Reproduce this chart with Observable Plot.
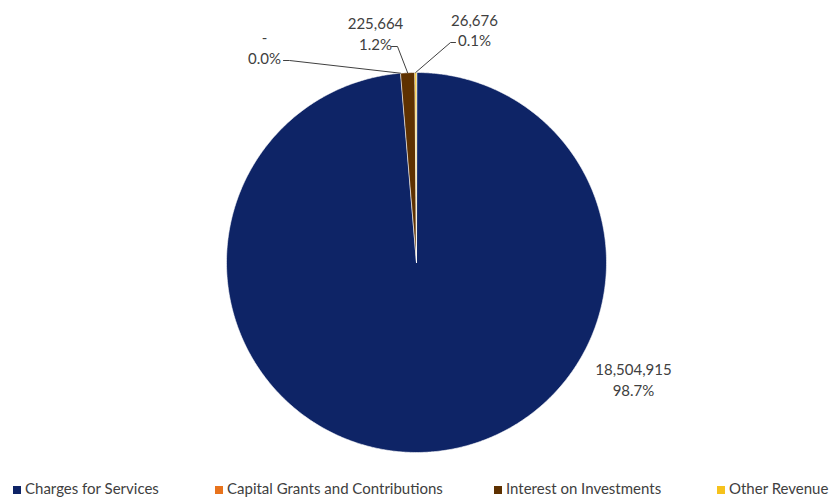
<!DOCTYPE html>
<html>
<head>
<meta charset="utf-8">
<script src="https://cdn.jsdelivr.net/npm/d3@7"></script>
<script src="https://cdn.jsdelivr.net/npm/@observablehq/plot@0.6"></script>
<style>
  html, body { margin: 0; padding: 0; background: #ffffff; }
  #chart { width: 834px; }
  #legend { position: relative; width: 834px; height: 19px; font-family: Lato, "Open Sans", sans-serif; font-size: 15px; color: #404040; }
  .item { position: absolute; top: 2px; height: 16px; line-height: 16px; white-space: nowrap; }
  .sw { display: inline-block; width: 8px; height: 8px; margin-right: 4px; vertical-align: 0px; }
</style>
</head>
<body>
<div id="chart"></div>
<div id="legend"></div>
<script>
// ---- data ----
const categories = ["Charges for Services", "Capital Grants and Contributions", "Interest on Investments", "Other Revenue"];
const values = [18504915, 0, 225664, 26676];
const valueLabels = ["18,504,915", "-", "225,664", "26,676"];
const percentLabels = ["98.7%", "0.0%", "1.2%", "0.1%"];
const colors = ["#0e2466", "#e8731c", "#5e3100", "#f6c21c"];

// ---- layout (pixels) ----
const W = 834, H = 478;
const cx = 416, cy = 262, R = 190;
// label block centers and leader start points (pixel layout)
const labelLayout = [
  {x: 633, y: 378.5, leader: null},
  {x: 264, y: 46.5, leader: [[283, 60], [289, 60]]},
  {x: 375, y: 32.5, leader: [[391, 46], [397, 46]]},
  {x: 474, y: 29, leader: [[455, 42], [450, 42]]}
];
const legendX = [13, 215, 494, 717];

const toUnit = ([px, py]) => [(px - cx) / R, (py - cy) / R];

// ---- pie geometry ----
const arcs = d3.pie().sort(null).value(d => d)(values);
const pt = a => [Math.sin(a), -Math.cos(a)];

const slices = arcs.map((a, i) => {
  const ring = [[0, 0]];
  const n = Math.max(2, Math.ceil((a.endAngle - a.startAngle) / (Math.PI / 360)));
  for (let k = 0; k <= n; ++k) ring.push(pt(a.startAngle + (a.endAngle - a.startAngle) * k / n));
  ring.push([0, 0]);
  return {type: "Feature", properties: {category: categories[i], value: values[i]}, geometry: {type: "Polygon", coordinates: [ring]}};
}).filter(f => f.properties.value > 0);

const circle = {type: "Polygon", coordinates: [d3.range(0, 361).map(d => pt(d * Math.PI / 180))]};

const leaders = [];
arcs.forEach((a, i) => {
  const L = labelLayout[i];
  if (!L.leader) return;
  L.leader.forEach(p => { const [x, y] = toUnit(p); leaders.push({i, x, y}); });
  const [x, y] = pt((a.startAngle + a.endAngle) / 2);
  leaders.push({i, x, y});
});

const labels = categories.map((c, i) => {
  const [x, y] = toUnit([labelLayout[i].x, labelLayout[i].y]);
  return {x, y, text: valueLabels[i] + "\n" + percentLabels[i]};
});

const chart = Plot.plot({
  width: W,
  height: H,
  marginLeft: cx - R,
  marginRight: W - cx - R,
  marginTop: cy - R,
  marginBottom: H - cy - R,
  projection: {type: "identity", domain: circle, clip: false},
  color: {domain: categories, range: colors},
  style: {fontFamily: "Lato, 'Open Sans', sans-serif", fontSize: "15px", color: "#404040", background: "#ffffff", overflow: "visible"},
  marks: [
    Plot.geo(slices, {fill: d => d.properties.category, stroke: "#ffffff", strokeWidth: 0.6}),
    Plot.line(leaders, {x: "x", y: "y", z: "i", stroke: "#404040", strokeWidth: 1, clip: false}),
    Plot.text(labels, {x: "x", y: "y", text: "text", fill: "#404040", fontSize: 15, lineHeight: 1.35, textAnchor: "middle", clip: false})
  ]
});
document.getElementById("chart").appendChild(chart);

const legend = document.getElementById("legend");
categories.forEach((c, i) => {
  const el = document.createElement("div");
  el.className = "item";
  el.style.left = legendX[i] + "px";
  el.innerHTML = `<span class="sw" style="background:${colors[i]}"></span>${c}`;
  legend.appendChild(el);
});
</script>
</body>
</html>
